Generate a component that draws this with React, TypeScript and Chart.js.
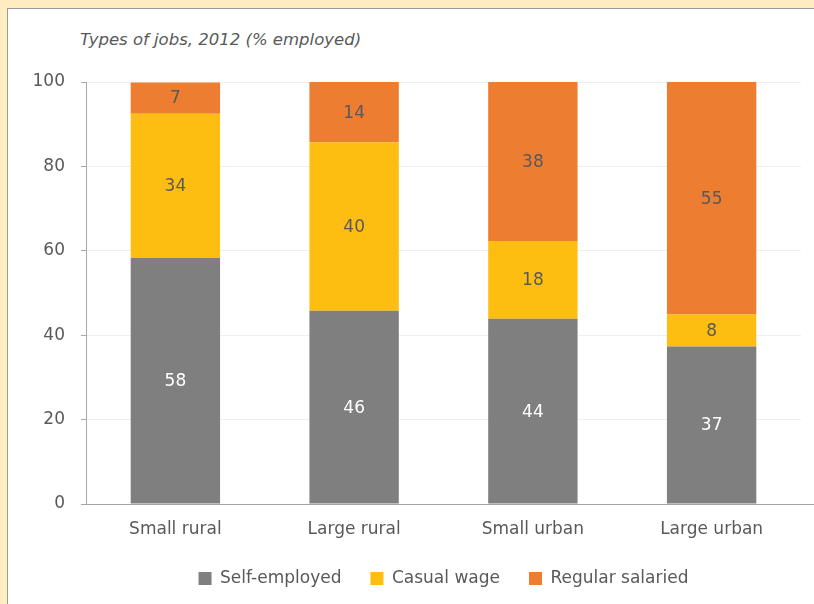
import React, { useEffect, useRef } from "react";
import { Chart, registerables } from "chart.js";

Chart.register(...registerables);

const categories = ["Small rural", "Large rural", "Small urban", "Large urban"];
const selfEmployed = [58.3, 45.8, 43.9, 37.3];
const casualWage = [34.2, 39.9, 18.4, 7.6];
const regularSalaried = [7.4, 14.3, 37.7, 55.1];
const seriesNames = ["Self-employed", "Casual wage", "Regular salaried"];
const seriesColors = ["#7F7F7F", "#FDBE11", "#ED7D31"];
const yMin = 0;
const yMax = 100;
const yStep = 20;
const titleText = "Types of jobs, 2012 (% employed)";

const FONT = "'DejaVu Sans', sans-serif";
const TEXT = "#595959";
const AXIS = "#A6A6A6";

const labelPlugin = {
  id: "segLabels",
  afterDatasetsDraw(chart: any) {
    const ctx = chart.ctx;
    ctx.save();
    // extend the category axis line to the panel edge, as in the reference
    const xs = chart.scales.x;
    ctx.strokeStyle = AXIS;
    ctx.lineWidth = 1;
    ctx.beginPath();
    ctx.moveTo(chart.chartArea.right, Math.round(xs.top) + 0.5);
    ctx.lineTo(chart.width, Math.round(xs.top) + 0.5);
    ctx.stroke();

    ctx.font = `17px ${FONT}`;
    ctx.textAlign = "center";
    ctx.textBaseline = "middle";
    chart.data.datasets.forEach((ds: any, di: number) => {
      const meta = chart.getDatasetMeta(di);
      meta.data.forEach((el: any, i: number) => {
        const v = ds.data[i];
        ctx.fillStyle = di === 0 ? "#FFFFFF" : TEXT;
        ctx.fillText(String(Math.round(v)), el.x, (el.y + el.base) / 2 + 1);
      });
    });
    ctx.restore();
  },
};

export default function App() {
  const ref = useRef<HTMLCanvasElement>(null);
  useEffect(() => {
    if (!ref.current) return;
    const chart = new Chart(ref.current, {
      type: "bar",
      data: {
        labels: categories,
        datasets: [selfEmployed, casualWage, regularSalaried].map((d, i) => ({
          label: seriesNames[i],
          data: d,
          backgroundColor: seriesColors[i],
          borderWidth: 0,
          barPercentage: 0.5,
          categoryPercentage: 1,
        })),
      },
      options: {
        animation: false,
        responsive: false,
        devicePixelRatio: 1,
        layout: { padding: { left: 0, right: 13, top: 82, bottom: 0 } },
        plugins: {
          legend: {
            position: "bottom",
            fullSize: false,
            labels: {
              boxWidth: 13,
              boxHeight: 13,
              padding: 29,
              color: TEXT,
              font: { family: FONT, size: 17 },
            },
          },
          tooltip: { enabled: false },
          title: { display: false },
        },
        scales: {
          x: {
            stacked: true,
            grid: { display: false, drawTicks: false },
            border: { display: true, color: AXIS, width: 1 },
            ticks: { color: TEXT, font: { family: FONT, size: 17 }, padding: 15 },
            afterFit: (s: any) => {
              s.height = 37;
            },
          },
          y: {
            stacked: true,
            min: yMin,
            max: yMax,
            grid: { color: "#EFEFEF", tickColor: AXIS, tickLength: 5, drawTicks: true },
            border: { display: true, color: AXIS, width: 1 },
            ticks: {
              stepSize: yStep,
              color: TEXT,
              font: { family: FONT, size: 17 },
              padding: 16,
            },
            afterFit: (s: any) => {
              s.width = 86;
            },
          },
        },
      },
      plugins: [labelPlugin],
    } as any);
    return () => chart.destroy();
  }, []);

  return (
    <div
      style={{
        position: "fixed",
        left: 0,
        top: 0,
        width: 814,
        height: 604,
        overflow: "hidden",
        background: "#FFECC1",
      }}
    >
      <div
        style={{
          position: "absolute",
          left: 7,
          top: 8,
          right: 0,
          bottom: 0,
          background: "#FFFFFF",
          borderTop: "1px solid #999999",
          borderLeft: "1px solid #999999",
        }}
      />
      <div
        style={{
          position: "absolute",
          left: 80,
          top: 30,
          fontFamily: FONT,
          fontStyle: "italic",
          fontSize: 16.5,
          color: TEXT,
          whiteSpace: "nowrap",
          lineHeight: "20px",
        }}
      >
        {titleText}
      </div>
      <canvas
        ref={ref}
        width={814}
        height={597}
        style={{ position: "absolute", left: 0, top: 0, width: 814, height: 597 }}
      />
    </div>
  );
}
